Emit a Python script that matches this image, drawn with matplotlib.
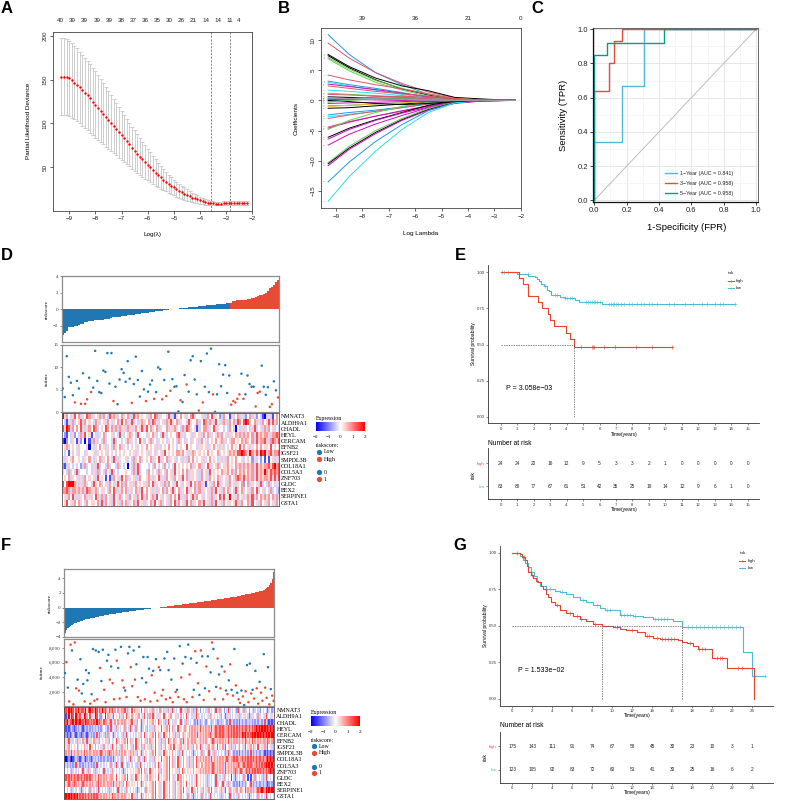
import numpy as np
import matplotlib
matplotlib.use('Agg')
import matplotlib.pyplot as plt
from matplotlib.colors import LinearSegmentedColormap

plt.rcParams['font.family'] = ['Liberation Sans', 'DejaVu Sans']
SERIF = ['Liberation Serif', 'DejaVu Serif']

# ---------------- A: cross-validated partial likelihood deviance ----------------
a_loglam = [-9.3, -9.2, -9.1, -9.0, -8.9, -8.8, -8.7, -8.6, -8.5, -8.4,
            -8.3, -8.2, -8.1, -8.0, -7.9, -7.8, -7.7, -7.6, -7.5, -7.4,
            -7.3, -7.2, -7.1, -7.0, -6.9, -6.8, -6.7, -6.6, -6.5, -6.4,
            -6.3, -6.2, -6.1, -6.0, -5.9, -5.8, -5.7, -5.6, -5.5, -5.4,
            -5.3, -5.2, -5.1, -5.0, -4.9, -4.8, -4.7, -4.6, -4.5, -4.4,
            -4.3, -4.2, -4.1, -4.0, -3.9, -3.8, -3.7, -3.6, -3.5, -3.4,
            -3.3, -3.2, -3.1, -3.0, -2.9, -2.8, -2.7, -2.6, -2.5, -2.4,
            -2.3, -2.2]
a_dev = [153.5, 153.5, 153, 151.5, 149, 146.5, 144, 141, 138, 135,
         132, 128.5, 125, 121.5, 118, 114.5, 111, 107.5, 104, 100.5,
         97, 93.5, 90, 86.5, 83, 79.5, 76, 72.5, 69, 65.5,
         62, 59, 56, 53, 50, 47, 44, 41, 38.5, 36,
         33.5, 31, 29, 27, 25, 23, 21.5, 20, 18.5, 17,
         15.5, 14.5, 13.5, 12.5, 11.5, 10.5, 9.5, 9.0, 8.8, 8.7,
         8.7, 8.7, 8.8, 8.9, 9.0, 9.1, 9.2, 9.3, 9.3, 9.3,
         9.3, 9.3]
a_err = [43.5, 43.5, 43.5, 43, 42.5, 42, 41.5, 41, 40.5, 40,
         39.5, 39, 38.5, 38, 37, 36, 35, 34, 33, 32,
         31, 30, 29, 28, 27, 26, 25, 24, 23, 22,
         21, 20, 19, 18, 17, 16, 15, 14, 13, 12,
         11, 10, 9.5, 9, 8.5, 8, 7.5, 7, 6.5, 6,
         5.5, 5, 4.5, 4, 3.5, 3, 2.7, 2.5, 2.3, 2.2,
         2.2, 2.2, 2.2, 2.2, 2.2, 2.2, 2.2, 2.2, 2.2, 2.2,
         2.2, 2.2]
a_top_pos = [-9.34, -8.87, -8.41, -7.94, -7.49, -7.01, -6.57, -6.10,
             -5.63, -5.17, -4.71, -4.25, -3.78, -3.31, -2.87, -2.51]
a_top_lab = [40, 39, 39, 39, 39, 38, 37, 36, 35, 30, 26, 21, 14, 14, 11, 4]
a_vlines = [-3.59, -2.87]

# ---------------- B: coefficient paths ----------------
b_grid = [-9.3, -8.5, -7.5, -6.5, -5.5, -4.5, -3.5, -2.2]
b_paths = [
    [10.9, 7.6, 4.6, 2.6, 1.0, 0.2, 0.0, 0.0],
    [9.5, 7.0, 4.6, 2.8, 1.4, 0.4, 0.05, 0.0],
    [7.6, 5.6, 3.7, 2.4, 1.6, 0.5, 0.25, 0.0],
    [7.4, 5.4, 3.4, 1.9, 0.9, 0.2, 0.0, 0.0],
    [7.1, 5.2, 3.3, 2.0, 1.0, 0.3, 0.05, 0.0],
    [6.9, 4.9, 3.0, 1.7, 0.7, 0.1, 0.0, 0.0],
    [4.2, 3.4, 2.6, 1.9, 1.1, 0.3, 0.05, 0.0],
    [3.2, 2.6, 2.0, 1.3, 0.5, 0.1, 0.0, 0.0],
    [3.0, 2.4, 1.7, 1.0, 0.4, 0.05, 0.0, 0.0],
    [2.7, 2.3, 1.8, 1.2, 0.6, 0.15, 0.0, 0.0],
    [2.4, 2.0, 1.5, 1.1, 0.7, 0.3, 0.1, 0.0],
    [1.7, 1.5, 1.2, 0.8, 0.4, 0.1, 0.0, 0.0],
    [1.2, 1.0, 0.8, 0.6, 0.3, 0.1, 0.02, 0.0],
    [0.6, 0.5, 0.4, 0.3, 0.2, 0.1, 0.03, 0.0],
    [0.3, 0.25, 0.2, 0.1, 0.05, 0.0, 0.0, 0.0],
    [0.05, 0.3, 0.6, 0.7, 0.5, 0.2, 0.05, 0.0],
    [-0.2, 0.1, 0.4, 0.5, 0.3, 0.1, 0.0, 0.0],
    [-0.5, -0.4, -0.3, -0.2, -0.1, 0.0, 0.0, 0.0],
    [-0.9, -0.8, -0.6, -0.4, -0.2, -0.05, 0.0, 0.0],
    [-1.3, -1.2, -0.9, -0.6, -0.3, -0.1, 0.0, 0.0],
    [-1.0, -0.8, -0.6, -0.4, -0.2, 0.0, 0.0, 0.0],
    [-2.4, -2.0, -1.6, -1.1, -0.5, -0.1, 0.0, 0.0],
    [-2.7, -2.3, -1.8, -1.2, -0.6, -0.15, 0.0, 0.0],
    [-3.0, -2.4, -1.8, -1.2, -0.6, -0.2, -0.05, 0.0],
    [-4.4, -3.5, -2.6, -1.8, -1.0, -0.4, -0.1, 0.0],
    [-4.6, -3.6, -2.6, -1.7, -0.9, -0.3, -0.05, 0.0],
    [-4.8, -3.3, -2.0, -1.0, -0.3, 0.0, 0.0, 0.0],
    [-6.1, -4.6, -3.2, -2.0, -0.8, -0.1, 0.0, 0.0],
    [-6.4, -4.8, -3.3, -2.1, -1.1, -0.3, -0.05, 0.0],
    [-7.4, -5.6, -3.9, -2.5, -1.2, -0.3, 0.0, 0.0],
    [-10.3, -7.6, -5.0, -3.0, -1.3, -0.3, 0.0, 0.0],
    [-10.5, -7.9, -5.3, -3.2, -1.5, -0.4, -0.05, 0.0],
    [-10.8, -8.1, -5.5, -3.3, -1.6, -0.5, -0.1, 0.0],
    [-13.5, -10.2, -6.8, -4.0, -1.7, -0.4, 0.0, 0.0],
    [-16.7, -12.6, -8.4, -4.8, -2.0, -0.4, 0.0, 0.0],
    [0.0, -0.2, -0.5, -0.7, -0.5, -0.2, 0.0, 0.0],
    [0.2, 0.2, 0.1, 0.0, -0.2, -0.1, 0.0, 0.0],
    [-0.3, 0.0, 0.2, 0.3, 0.2, 0.05, 0.0, 0.0],
    [1.0, 0.9, 0.7, 0.5, 0.3, 0.1, 0.0, 0.0],
    [0.4, 0.3, 0.25, 0.2, 0.1, 0.0, 0.0, 0.0],
]
b_cols = ['blue', 'red', 'black', 'black', 'green', 'green', 'red', 'blue', 'cyan', 'magenta',
          'red', 'cyan', 'green', 'black', 'blue', 'red', 'cyan', 'magenta', 'blue', 'black',
          'yellow', 'blue', 'cyan', 'red', 'red', 'magenta', 'green', 'black', 'magenta', 'magenta',
          'green', 'black', 'magenta', 'blue', 'cyan', 'black', 'magenta', 'green', 'red', 'gray']
r_pal = {'black': '#000000', 'red': '#DF536B', 'green': '#61D04F', 'blue': '#2297E6',
         'cyan': '#28E2E5', 'magenta': '#CD0BBC', 'yellow': '#F5C710', 'gray': '#9E9E9E'}
b_top_pos = [-8, -6, -4, -2]
b_top_lab = [39, 36, 21, 0]

# ---------------- C: time-dependent ROC ----------------
roc_names = ['1\u2212Year (AUC = 0.841)', '3\u2212Year (AUC = 0.958)', '5\u2212Year (AUC = 0.958)']
roc_fpr = [[0, 0, 0.17, 0.17, 0.31, 0.31, 1.0],
           [0, 0, 0.09, 0.09, 0.12, 0.12, 0.17, 0.17, 1.0],
           [0, 0, 0.08, 0.08, 0.43, 0.43, 1.0]]
roc_tpr = [[0, 0.34, 0.34, 0.67, 0.67, 1.0, 1.0],
           [0, 0.64, 0.64, 0.80, 0.80, 0.93, 0.93, 1.0, 1.0],
           [0, 0.85, 0.85, 0.92, 0.92, 1.0, 1.0]]
roc_cols = ['#4DBBD5', '#E64B35', '#00A087']

# ---------------- D: training cohort risk plot ----------------
genes = ['NMNAT3', 'ALDH9A1', 'CHADL', 'HEYL', 'CERCAM', 'EFNB2', 'IGSF21', 'SMPDL3B',
         'COL18A1', 'COL5A3', 'ZNF703', 'GLDC', 'BEX2', 'SERPINE1', 'GSTA1']
d_risk_low = [-3.15, -2.9, -2.6, -2.2, -2.15, -2.1, -2.05, -2.0, -1.9, -1.85,
              -1.8, -1.55, -1.5, -1.45, -1.4, -1.38, -1.35, -1.32, -1.3, -1.28,
              -1.25, -1.22, -1.2, -1.15, -1.1, -1.0, -0.95, -0.92, -0.9, -0.85,
              -0.82, -0.8, -0.76, -0.72, -0.7, -0.66, -0.62, -0.6, -0.56, -0.52,
              -0.5, -0.46, -0.42, -0.4, -0.36, -0.32, -0.28, -0.25, -0.2, -0.17,
              -0.14, -0.1, -0.06, -0.03, 0.0, 0.02, 0.05, 0.07, 0.1, 0.12,
              0.15, 0.18, 0.2, 0.22, 0.25, 0.28, 0.3, 0.33, 0.36, 0.4,
              0.42, 0.45, 0.48, 0.5, 0.52, 0.55, 0.58, 0.6, 0.62, 0.65,
              0.67, 0.7, 0.72]
d_risk_high = [0.8, 0.95, 1.0, 1.05, 1.08, 1.1, 1.12, 1.15, 1.2, 1.25,
               1.3, 1.4, 1.5, 1.55, 1.65, 1.75, 1.85, 2.0, 2.2, 2.5,
               2.7, 2.9, 3.3, 3.5]
d_time = [5.3, 3.4, 12.5, 7.9, 6.6, 3.8, 2.2, 7.0, 5.3, 1.9,
          8.7, 1.9, 2.9, 7.7, 4.5, 5.5, 13.7, 7.0, 4.5, 4.3,
          9.3, 9.0, 13.2, 6.4, 13.2, 2.5, 5.7, 1.8, 7.3, 9.6,
          8.8, 6.8, 11.4, 7.5, 2.1, 6.3, 12.4, 7.2, 3.5, 9.2,
          5.1, 2.5, 4.6, 6.2, 7.1, 3.0, 4.5, 10.0, 9.6, 2.9,
          7.2, 3.6, 13.5, 4.8, 7.4, 5.7, 5.8, 0.2, 2.7, 2.3,
          8.3, 6.2, 4.6, 11.6, 12.5, 7.3, 4.0, 0.4, 11.4, 2.2,
          5.7, 13.1, 4.5, 14.2, 4.0, 0.1, 4.0, 10.7, 5.8, 8.4,
          10.5, 4.3, 8.2,
          1.7, 2.5, 2.2, 3.0, 4.0, 8.6, 3.0,
          4.0, 8.2, 6.3, 5.7, 5.7, 1.3, 4.3, 4.6, 10.4, 5.7,
          3.9, 5.6, 1.2, 1.8, 6.9, 4.9, 3.3]
d_status = [0, 0, 0, 0, 0, 0, 1, 0, 0, 1,
            0, 1, 1, 0, 1, 0, 0, 0, 0, 0,
            0, 0, 0, 0, 0, 1, 0, 0, 0, 0,
            0, 0, 0, 0, 1, 0, 0, 0, 0, 0,
            0, 1, 0, 0, 0, 1, 0, 0, 0, 1,
            0, 1, 0, 1, 0, 0, 0, 0, 1, 0,
            0, 1, 0, 0, 0, 0, 0, 1, 0, 1,
            0, 0, 0, 0, 1, 0, 0, 0, 0, 0,
            0, 0, 0,
            1, 1, 1, 1, 1, 0, 1,
            0, 0, 0, 0, 0, 1, 1, 1, 0, 0,
            0, 0, 1, 1, 0, 0, 1]
# expression level codes (one character per sample) and their z-score values
expr_code = {'0': -2.0, '1': -1.4, '2': -0.8, '3': -0.35, '4': 0.0,
             '5': 0.35, '6': 0.8, '7': 1.4, '8': 2.0}
d_expr = [
    "8564357463 5476354563 6437565346 5463375645 4536476354 4375315464 5346734453 3647354236 4415346353 2463524310 3531464",
    "4315363457 3645436534 5364354637 4635734356 5463765345 3657546354 4375446347 6365374536 5364637647 8754635364 5737564",
    "7587364647 5356476345 4764636365 5365356457 3746546354 4635565436 3765451346 6354735443 4364304353 5435734536 3645343",
    "4214352436 3745143354 6344534374 3456543744 4354653437 5345446735 3445354536 4635456364 5355465636 5646375656 6536676",
    "1024354152 4041365343 6344373443 4563543474 3456343545 4354543654 3543545364 5345464565 3456645465 6546375667 5367657",
    "4563454534 4450435464 5354365463 5434545345 4645453534 5464543454 4745443554 5354645353 4546454746 4535464645 5474545",
    "4341434534 4354453545 4534543454 5445453545 4535435453 7454546656 4535654545 4645446545 4565657787 6586575878 5675667",
    "5354564454 3546435463 5464375354 4534365463 4546354735 4635453453 5364645453 5464543535 3645464453 4542534241 4145353",
    "2133434342 3634353734 4363443634 3404363734 4434364343 6434374545 4546354635 4735456345 5645465636 5656375656 6757867",
    "3436343734 4434353634 3643734344 4544363734 4364543654 3645374546 4635545364 5374545465 5646364656 4656375658 6576767",
    "4546354535 3645453745 4141364537 4635453364 4565354735 3645364537 4635545364 5364546354 5364567657 5656375656 6575737",
    "7478886535 3654375463 4536435746 3645536454 5364735453 6364537453 4537463635 1453647354 5364535462 4635453734 3634353",
    "6676366565 6376556345 5436475356 4635346537 4645353546 3645734635 4735463635 4536374536 4654375463 4536473453 4363432",
    "4536475335 4635347536 3645374563 4536453647 3645637453 4536464735 3645736453 4536354737 4584536453 5657364656 5646365",
    "4574536465 4364554637 3645374536 4635463745 3546374563 4536473645 3746354637 4536374536 4554575364 4637453645 3645364",
]

# ---------------- F: validation cohort risk plot ----------------
f_risk_low = [-3.5, -3.1, -2.8, -2.6, -2.45, -2.35, -2.25, -2.15, -2.05, -2.0,
              -1.92, -1.85, -1.8, -1.74, -1.68, -1.62, -1.56, -1.52, -1.48, -1.44,
              -1.4, -1.36, -1.32, -1.28, -1.24, -1.2, -1.16, -1.12, -1.08, -1.04,
              -1.0, -0.97, -0.94, -0.91, -0.88, -0.85, -0.82, -0.79, -0.76, -0.73,
              -0.7, -0.67, -0.64, -0.61, -0.58, -0.55, -0.52, -0.5, -0.47, -0.45,
              -0.42, -0.4, -0.37, -0.35, -0.32, -0.3, -0.27, -0.25, -0.22, -0.2,
              -0.17, -0.15]
f_risk_high = [-0.12, -0.1, -0.07, -0.05, -0.02, 0.0, 0.03, 0.05, 0.08, 0.1,
               0.13, 0.15, 0.18, 0.2, 0.23, 0.25, 0.28, 0.3, 0.33, 0.35,
               0.38, 0.4, 0.43, 0.45, 0.48, 0.5, 0.53, 0.55, 0.58, 0.6,
               0.63, 0.65, 0.68, 0.7, 0.73, 0.75, 0.78, 0.8, 0.83, 0.86,
               0.89, 0.92, 0.95, 0.98, 1.01, 1.04, 1.07, 1.1, 1.13, 1.16,
               1.19, 1.22, 1.25, 1.28, 1.31, 1.34, 1.37, 1.4, 1.43, 1.46,
               1.5, 1.54, 1.58, 1.62, 1.66, 1.7, 1.74, 1.78, 1.82, 1.86,
               1.9, 1.94, 1.98, 2.02, 2.06, 2.1, 2.15, 2.2, 2.25, 2.3,
               2.4, 2.5, 2.65, 2.8, 3.0, 3.3, 3.9, 4.8]
f_time = [4600, 6100, 2600, 700, 8500, 7700, 300, 8800, 2500, 3700,
          2200, 6500, 1800, 3100, 700, 5000, 3600, 4600, 400, 1700,
          7900, 800, 7700, 1000, 7500, 5300, 3500, 7800, 2300, 600,
          6300, 7100, 3700, 5500, 3200, 1000, 7800, 6300, 5300, 1100,
          8200, 3600, 2600, 2200, 1300, 7300, 8200, 5400, 2800, 7700,
          3700, 5800, 1300, 8200, 800, 3900, 6800, 1000, 3300, 6800,
          5200, 700,
          4300, 4900, 1900, 6500, 800, 5400, 5000, 1500, 2300, 6600,
          1000, 7500, 5000, 1200, 3700, 600, 6600, 2000, 2300, 1300,
          8300, 4000, 5900, 1000, 6800, 600, 8500, 4400, 6600, 1300,
          2300, 7600, 6000, 3200, 1600, 7700, 6900, 900, 2500, 5500,
          6900, 2100, 4700, 8800, 7900, 1000, 2700, 6600, 4400, 2500,
          5500, 1000, 4800, 2200, 1700, 3600, 5800, 2300, 1500, 7900,
          2900, 1900, 1000, 500, 2200, 1400, 200, 2100, 5700, 600,
          5900, 1800, 2300, 1100, 4900, 2500, 400, 3400, 1900, 800,
          7200, 2600, 1200, 5400, 300, 2400, 1500, 800]
f_status = [0, 1, 0, 1, 1, 0, 1, 1, 1, 0,
            1, 0, 0, 0, 1, 0, 0, 0, 1, 0,
            0, 1, 0, 1, 0, 1, 0, 0, 1, 1,
            0, 0, 1, 0, 1, 1, 0, 1, 0, 1,
            0, 1, 1, 0, 1, 0, 0, 1, 1, 0,
            1, 0, 1, 0, 1, 0, 0, 1, 0, 0,
            0, 1,
            1, 0, 1, 0, 1, 1, 0, 1, 1, 0,
            1, 0, 0, 1, 0, 1, 0, 1, 0, 1,
            0, 1, 0, 1, 0, 1, 0, 1, 0, 1,
            0, 1, 0, 1, 0, 1, 0, 1, 0, 1,
            0, 1, 0, 1, 0, 1, 0, 1, 0, 1,
            0, 1, 1, 0, 1, 0, 1, 0, 1, 0,
            1, 0, 1, 1, 0, 1, 0, 1, 0, 1,
            0, 1, 0, 1, 0, 1, 1, 0, 1, 1,
            0, 1, 1, 0, 1, 0, 1, 1]
f_expr = [
    "8768787576 8677685786 7687576867 6576756465 5667365474 6535474635 4536345463 4353643734 3437345363 4363734243 4336434373 3634243734 3432734363 3424363433 2434373423",
    "5168517482 6753816475 3587462548 4635374546 5364735463 4536453746 3647345354 4734536443 5346434734 4353735434 3453634543 4364373534 3435363453 4373534363 3453734354",
    "8786778687 7867687767 6768676576 6567356465 5636545674 5364573546 4536434753 4363734353 3437343634 3432373234 3234363432 2363432373 3232373232 2363232323 3237321212",
    "2121232123 2321232323 2363232343 3237343634 3436343734 3634373436 4353634547 4536474635 4735456546 5636565756 5656375676 6767636767 6737676767 7676767878 7878787878",
    "1212123212 3212321232 3237323432 3634373434 4363734343 4345364735 4536474635 4735464536 5364565456 5656375656 5656765676 6767636767 6767676878 6767878787 8787878788",
    "3537353436 5346357353 4635364543 5364354735 4536474635 4735464536 4635474536 5364735463 5456375464 5656545636 5654567656 5636565756 5656365657 6565756565 6566576567",
    "4536434546 3454643474 5464345364 4543734645 3645464536 4735463645 5365474536 4564536474 4536455464 5364654735 4536456547 4546374536 5364564537 4536465474 4556374536",
    "5656375656 6565746565 5636567656 5676565636 5646545656 5364573454 4536474535 4735434645 4363734343 4373434363 3437343634 3434323734 3232373232 3237323232 2321212121",
    "1012101232 2123212321 2363232323 3232373434 3634343734 3436343734 4353634547 4536474635 4735464536 5364735656 5656375656 5636567656 6767636767 6767676767 7676787878",
    "2323232373 3232363232 3237343434 3436343734 3734363434 4363734343 4345364735 4536474635 4735464536 5364735464 5636567656 5656375656 5656765676 6767636767 6767878787",
    "3434363434 3437343634 4363434373 4343634343 4373434545 4536474635 4735454636 4536474545 5364735454 5464545656 5636567656 5656375656 5676567656 7676767676 7676767878",
    "6767676767 7676767676 6565736565 6536654745 4536474535 4735464536 4635434745 4536474535 4736434543 4345734543 4363434373 4343634341 4373434363 4141436343 4363734341",
    "6567656765 6567656565 6536756565 5656375656 5364735454 5464573454 4536474535 4735464536 4536434743 4345734543 4363434373 3437343634 3232373232 3437323232 2323212321",
    "3434363434 4373434363 4343734343 4363434373 4343634343 4373434365 4536474535 4735464536 4536474535 4735464536 4536474535 4565374565 4536456547 5656365676 7876878788",
    "7878787878 6767676767 6767656565 6565736565 5636545474 5364573454 5436474535 4735464536 4536434363 4373434363 4343734343 4363434373 4343634343 4373434363 4343734343",
]

# ---------------- E / G: Kaplan-Meier ----------------
e_hi_t = [0, 1.13, 1.34, 1.68, 2.25, 2.49, 2.9, 3.0, 3.24, 3.95, 4.19, 4.45, 10.38]
e_hi_s = [1.0, 0.958, 0.917, 0.833, 0.792, 0.75, 0.708, 0.667, 0.625, 0.583, 0.54, 0.48, 0.48]
e_lo_t = [0, 1.0, 1.68, 2.08, 2.2, 2.35, 2.42, 2.62, 2.8, 2.95, 3.06, 3.6, 3.9, 4.5, 4.76, 6.13, 14.2]
e_lo_s = [1.0, 0.988, 0.976, 0.964, 0.952, 0.94, 0.916, 0.904, 0.88, 0.868, 0.843, 0.831, 0.82, 0.81,
          0.795, 0.78, 0.78]
e_hi_cens = [4.88, 5.53, 5.6, 5.67, 6.28, 6.94, 8.22, 9.17, 10.38]
e_lo_cens = [0.1, 0.2, 0.45, 1.65, 2.7, 3.3, 3.4, 3.9, 4.0, 4.2, 4.35, 5.2, 5.3, 5.45, 5.55, 5.65,
             5.75, 5.85, 6.0, 6.6, 6.7, 6.8, 6.9, 7.0, 7.1, 7.3, 7.5, 7.8, 8.0, 8.3, 8.5, 8.7, 9.0,
             9.2, 9.5, 10.2, 10.5, 11.2, 11.7, 12.2, 12.5, 13.0, 13.3, 13.5, 14.2]
e_nrisk_hi = [24, 24, 20, 16, 12, 9, 5, 3, 3, 2, 1, 0, 0, 0, 0, 0]
e_nrisk_lo = [83, 80, 77, 67, 61, 51, 42, 35, 25, 19, 14, 12, 9, 6, 1, 0]
e_ticks = [0, 1, 2, 3, 4, 5, 6, 7, 8, 9, 10, 11, 12, 13, 14, 15]

g_hi_t = [0, 0.77, 1.0, 1.27, 1.45, 1.6, 1.85, 2.1, 2.35, 2.6,
          2.85, 3.1, 3.35, 3.6, 3.9, 4.3, 4.8, 5.4, 6.1, 6.8,
          7.4, 8.1, 8.95, 10.1, 10.8, 11.4, 12.5, 13.3, 14.1, 14.8,
          16.6, 17.0, 17.5, 18.1, 18.6, 19.96, 21.5, 24.2]
g_hi_s = [1.0, 0.99, 0.97, 0.95, 0.91, 0.87, 0.85, 0.83, 0.81, 0.80,
          0.77, 0.75, 0.72, 0.70, 0.66, 0.64, 0.61, 0.585, 0.565, 0.55,
          0.53, 0.51, 0.50, 0.49, 0.48, 0.475, 0.46, 0.43, 0.42, 0.41,
          0.40, 0.39, 0.38, 0.365, 0.345, 0.28, 0.21, 0.0]
g_lo_t = [0, 0.77, 1.1, 1.3, 1.6, 1.9, 2.2, 2.5, 2.8, 3.4,
          4.3, 4.8, 5.4, 6.1, 6.8, 7.4, 8.1, 8.8, 9.3, 10.8,
          12.1, 13.1, 14.1, 16.1, 17.0, 23.1, 24.0, 25.3]
g_lo_s = [1.0, 0.98, 0.95, 0.93, 0.90, 0.87, 0.84, 0.80, 0.77, 0.755,
          0.74, 0.73, 0.72, 0.70, 0.68, 0.66, 0.64, 0.62, 0.605, 0.575,
          0.57, 0.56, 0.55, 0.53, 0.49, 0.32, 0.16, 0.16]
g_hi_cens = [0.5, 1.2, 2.0, 4.5, 5.8, 6.5, 6.9, 8.3, 10.5, 12.0, 13.5, 13.7, 14.5, 15.0, 15.3,
             15.6, 15.9, 16.2, 17.8, 18.7, 19.0, 19.3, 20.5, 20.8, 21.0, 22.6, 23.0]
g_lo_cens = [1.0, 1.5, 3.8, 5.0, 7.1, 8.5, 9.5, 9.8, 10.9, 11.2, 11.5, 11.8, 12.3, 14.3, 14.6,
             14.9, 15.2, 15.5, 17.6, 18.0, 18.4, 18.8, 19.2, 19.6, 20.0, 20.4, 20.8, 21.2, 21.6,
             22.0, 22.4, 22.8, 25.3]
g_nrisk_hi = [175, 143, 111, 91, 74, 67, 58, 45, 30, 23, 10, 3, 1]
g_nrisk_lo = [123, 105, 92, 83, 72, 60, 51, 41, 30, 25, 16, 6, 2]
g_ticks = [0, 2, 4, 6, 8, 10, 12, 14, 16, 18, 20, 22, 24]

# ---------------- drawing ----------------
W, H = 787, 809
fig = plt.figure(figsize=(W / 100, H / 100), dpi=100)

BLUE = '#1F77B4'
RED = '#E64B35'
KM_RED = '#E8432D'
KM_BLUE = '#4DBBD5'
heat_cmap = LinearSegmentedColormap.from_list('bwr2', ['#0000FF', '#FFFFFF', '#FF0000'])


def ax_px(l, t, r, b):
    return fig.add_axes([l / W, 1 - b / H, (r - l) / W, (b - t) / H])


def r_style(ax, size=4.5):
    for sp in ax.spines.values():
        sp.set_color('#444444')
        sp.set_linewidth(0.6)
    ax.tick_params(labelsize=size, length=2, width=0.5, pad=2, colors='#222222')
    ax.tick_params(axis='y', labelrotation=90)
    for lab in ax.get_yticklabels():
        lab.set_va('center')


# A
axA = ax_px(53.3, 31.7, 252.3, 210.7)
axA.errorbar(a_loglam, a_dev, yerr=a_err, fmt='none', ecolor='#c6c6c6',
             elinewidth=0.6, capsize=1.3, capthick=0.6)
axA.scatter(a_loglam, a_dev, s=3, color='#FF0000', lw=0, zorder=3)
for v in a_vlines:
    axA.axvline(v, color='#555555', lw=0.5, ls=(0, (3, 2)))
axA.set_xlim(-9.61, -2.0)
axA.set_ylim(0.5, 204.6)
axA.set_xticks(range(-9, -1))
axA.set_yticks([50, 100, 150, 200])
r_style(axA)
for p, lab in zip(a_top_pos, a_top_lab):
    axA.text(p, 1.06, str(lab), transform=axA.get_xaxis_transform(), ha='center', va='center',
             fontsize=4.5, color='#222222')

# B
axB = ax_px(321, 28.3, 521, 208.3)
for vals, c in zip(b_paths, b_cols):
    axB.plot(b_grid, vals, color=r_pal[c], lw=0.7)
axB.axhline(0, color='#bbbbbb', lw=0.4, ls=(0, (2, 2)), zorder=0)
axB.set_xlim(-9.57, -1.99)
axB.set_ylim(-17.86, 11.94)
axB.set_xticks(range(-9, -1))
axB.set_yticks([-15, -10, -5, 0, 5, 10])
r_style(axB)
for i, vals in enumerate(b_paths):
    axB.text(-9.42, vals[0], str(i + 1), fontsize=1.6, color='#888888', ha='right', va='center')
for p, lab in zip(b_top_pos, b_top_lab):
    axB.text(p, 1.056, str(lab), transform=axB.get_xaxis_transform(), ha='center', va='center',
             fontsize=4.5, color='#222222')

# C
axC = ax_px(592.7, 27.7, 757.7, 201.7)
axC.set_xlim(-0.01, 1.01)
axC.set_ylim(-0.008, 1.009)
axC.set_xticks([0, 0.2, 0.4, 0.6, 0.8, 1.0])
axC.set_yticks([0, 0.2, 0.4, 0.6, 0.8, 1.0])
axC.set_xticks([0.1, 0.3, 0.5, 0.7, 0.9], minor=True)
axC.set_yticks([0.1, 0.3, 0.5, 0.7, 0.9], minor=True)
axC.grid(True, which='major', color='#E6E6E6', lw=0.7)
axC.grid(True, which='minor', color='#F0F0F0', lw=0.4)
axC.set_axisbelow(True)
axC.plot([0, 1], [0, 1], color='#BDBDBD', lw=0.7)
for fx, ty, c in zip(roc_fpr, roc_tpr, roc_cols):
    axC.plot(fx, ty, color=c, lw=1.0)
axC.xaxis.set_major_formatter(plt.FormatStrFormatter('%.1f'))
axC.yaxis.set_major_formatter(plt.FormatStrFormatter('%.1f'))
axC.tick_params(which='major', labelsize=5.5, length=2, width=0.6, pad=1.5, colors='#222222')
axC.tick_params(which='minor', length=0)
for side in ['left', 'bottom']:
    axC.spines[side].set_color('#111111')
    axC.spines[side].set_linewidth(0.9)
for side in ['top', 'right']:
    axC.spines[side].set_color('#555555')
    axC.spines[side].set_linewidth(0.6)


def risk_panel(top_b, top_s, top_h, l, r, risk_low, risk_high, times, status, ylim_bar,
               bar_ticks, ylim_sc, sc_ticks, sc_labels, expr):
    n = len(risk_low) + len(risk_high)
    risk = risk_low + risk_high
    cols = [BLUE] * len(risk_low) + [RED] * len(risk_high)
    axb = ax_px(l, top_b[0], r, top_b[1])
    axb.bar(range(n), risk, width=1.0, color=cols, lw=0)
    axb.set_xlim(-0.5, n - 0.5)
    axb.set_ylim(*ylim_bar)
    axb.set_xticks([])
    axb.set_yticks(bar_ticks)
    axs = ax_px(l, top_s[0], r, top_s[1])
    axs.scatter(range(n), times, s=3.2, lw=0,
                c=[RED if st == 1 else BLUE for st in status], zorder=3)
    axs.set_xlim(-0.5, n - 0.5)
    axs.set_ylim(*ylim_sc)
    axs.set_xticks([])
    axs.set_yticks(sc_ticks)
    axs.set_yticklabels(sc_labels)
    for a in (axb, axs):
        for sp in a.spines.values():
            sp.set_color('#8C8C8C')
            sp.set_linewidth(0.9)
        a.tick_params(labelsize=3.6, length=1.5, width=0.4, pad=1, colors='#333333')
        for lab in a.get_yticklabels():
            lab.set_family(SERIF)
    axh = ax_px(l, top_h[0], r, top_h[1])
    mat = np.array([[expr_code[ch] for ch in (s.replace(' ', '') + '4' * n)[:n]] for s in expr])
    axh.imshow(mat, cmap=heat_cmap, vmin=-2, vmax=2, aspect='auto', interpolation='nearest')
    axh.set_xticks([])
    axh.yaxis.tick_right()
    axh.set_yticks(range(len(genes)))
    axh.set_yticklabels(genes, family=SERIF, fontsize=4.3)
    axh.tick_params(length=0, pad=1.5)
    for sp in axh.spines.values():
        sp.set_color('#555555')
        sp.set_linewidth(0.6)
    return axb, axs, axh


risk_panel((276, 342.3), (345, 412.3), (413.3, 505.7), 61.7, 279,
           d_risk_low, d_risk_high, d_time, d_status, (-4, 4), [-2, 0, 2, 4],
           (0, 15), [0, 5, 10, 15], ['0', '5', '10', '15'], d_expr)
risk_panel((569.3, 637.3), (639, 705.7), (707.3, 799.3), 64.3, 274.3,
           f_risk_low, f_risk_high, f_time, f_status, (-4.05, 5.2), [-4, -2, 0, 2, 4],
           (118, 9277), [2000, 4000, 6000, 8000], ['2,000', '4,000', '6,000', '8,000'], f_expr)


def km_panel(box, tbox, xlim, ylim, ticks, hi_t, hi_s, lo_t, lo_s, hi_c, lo_c, n_hi, n_lo,
             med_end, med_v):
    ax = ax_px(*box)
    for t, s, cens, col in [(lo_t, lo_s, lo_c, KM_BLUE), (hi_t, hi_s, hi_c, KM_RED)]:
        ax.step(t, s, where='post', color=col, lw=0.8)
        idx = np.searchsorted(np.array(t), cens, side='right') - 1
        ax.plot(cens, np.array(s)[idx], ls='none', marker='+', ms=2.2, mew=0.4, color=col)
    ax.plot([0, med_end], [0.5, 0.5], color='#555555', lw=0.5, ls=(0, (2, 1.5)))
    for v in med_v:
        ax.plot([v, v], [0, 0.5], color='#555555', lw=0.5, ls=(0, (2, 1.5)))
    ax.set_xlim(*xlim)
    ax.set_ylim(*ylim)
    ax.set_xticks(ticks)
    ax.set_yticks([0, 0.25, 0.5, 0.75, 1.0])
    ax.set_yticklabels(['0.00', '0.25', '0.50', '0.75', '1.00'])
    tb = ax_px(*tbox)
    tb.set_xlim(*xlim)
    tb.set_ylim(0, 1)
    tb.set_xticks(ticks)
    yh, yl = 0.71, 0.255
    tb.set_yticks([yl, yh])
    tb.set_yticklabels(['low', 'high'])
    for x, nh, nl in zip(ticks, n_hi, n_lo):
        tb.text(x, yh, str(nh), ha='center', va='center', fontsize=3.4, color='#222222')
        tb.text(x, yl, str(nl), ha='center', va='center', fontsize=3.4, color='#222222')
    for a in (ax, tb):
        a.spines[['top', 'right']].set_visible(False)
        for side in ['left', 'bottom']:
            a.spines[side].set_color('#333333')
            a.spines[side].set_linewidth(0.6)
        a.tick_params(labelsize=3.1, length=1.5, width=0.4, pad=1, colors='#333333')
    tb.get_yticklabels()[0].set_color(KM_BLUE)
    tb.get_yticklabels()[1].set_color(KM_RED)
    return ax, tb


km_panel((488.3, 265, 759.3, 423.3), (488.3, 448.3, 759.3, 499.3), (-0.75, 15.7), (-0.045, 1.05),
         e_ticks, e_hi_t, e_hi_s, e_lo_t, e_lo_s, e_hi_cens, e_lo_cens, e_nrisk_hi, e_nrisk_lo,
         4.45, [4.45])
km_panel((500, 546, 773.3, 705.7), (500, 731.7, 773.3, 782.7), (-1.23, 26.13), (-0.046, 1.046),
         g_ticks, g_hi_t, g_hi_s, g_lo_t, g_lo_s, g_hi_cens, g_lo_cens, g_nrisk_hi, g_nrisk_lo,
         17.0, [8.95, 17.0])

# ---------------- overlay: labels, legends ----------------
ov = fig.add_axes([0, 0, 1, 1], zorder=20)
ov.set_xlim(0, W)
ov.set_ylim(H, 0)
ov.axis('off')


def T(x, y, s, **kw):
    kw.setdefault('ha', 'center')
    kw.setdefault('va', 'center')
    ov.text(x, y, s, **kw)


for lab, x, y in [('A', 7, 8.5), ('B', 284, 8.5), ('C', 537, 8.5), ('D', 7, 255),
                  ('E', 460, 255), ('F', 6, 546), ('G', 460, 546)]:
    T(x, y, lab, fontsize=12, fontweight='bold')

T(153, 234, 'Log(\u03bb)', fontsize=4.6)
T(29, 121, 'Partial Likelihood Deviance', fontsize=4.6, rotation=90)
T(421, 233, 'Log Lambda', fontsize=4.6)
T(296, 118, 'Coefficients', fontsize=4.6, rotation=90)

T(563, 115, 'Sensitivity (TPR)', fontsize=6.8, rotation=90)
T(687, 227.5, '1-Specificity (FPR)', fontsize=6.8)
for i, (name, c) in enumerate(zip(roc_names, roc_cols)):
    y = 173.3 + 10 * i
    ov.plot([665, 677], [y, y], color=c, lw=1.0)
    T(680, y, name, fontsize=3.9, ha='left', color='#222222')

# heatmap legends
for (x0, yexp, ycb, ytk, yrs, ylow, yhigh, y0, y1) in [
        (316, 418, (421.7, 430.7), 437.3, 445.7, 451.7, 459, 472.3, 479),
        (311, 712.3, (715.7, 725.7), 731.7, 740, 746, 752.7, 766.7, 772.7)]:
    T(x0, yexp, 'Expression', fontsize=4.2, ha='left', family=SERIF)
    cb = ax_px(x0, ycb[0], x0 + 49, ycb[1])
    cb.imshow(np.linspace(-2, 2, 200)[None, :], cmap=heat_cmap, aspect='auto')
    cb.axis('off')
    for k, lab in enumerate(['\u22122', '\u22121', '0', '1', '2']):
        T(x0 + k * 12.25, ytk, lab, fontsize=3.8, family=SERIF)
    T(x0, yrs, 'riskscore:', fontsize=4.2, ha='left', family=SERIF)
    for yy, c, lab in [(ylow, BLUE, 'Low'), (yhigh, RED, 'High'), (y0, BLUE, '0'), (y1, RED, '1')]:
        ov.plot(x0 + 3, yy, 'o', ms=3.8, color=c, mew=0)
        T(x0 + 8, yy, lab, fontsize=4.2, ha='left', family=SERIF)

T(46.7, 309, 'riskscore', fontsize=3.8, rotation=90, family=SERIF)
T(46.7, 378.7, 'futime', fontsize=3.8, rotation=90, family=SERIF)
T(50, 603, 'riskscore', fontsize=3.8, rotation=90, family=SERIF)
T(41.7, 672, 'futime', fontsize=3.8, rotation=90, family=SERIF)

# KM labels
for (ylab_x, ylab_y, xlab_x, xlab_y, risk_y, xlab2_y, p_x, p_y, p_txt, nr_x, nr_y,
     lg_x, lg_y) in [
        (473.3, 344, 624, 434, 475, 509.3, 506, 388.3, 'P = 3.058e\u221203', 488.3, 443.3, 727.7, 272.7),
        (485, 626, 637.3, 716, 757, 792.3, 517.7, 670, 'P = 1.533e\u221202', 500, 725.7, 739.3, 553.3)]:
    T(ylab_x, ylab_y, 'Survival probability', fontsize=3.6, rotation=90)
    T(xlab_x, xlab_y, 'Time(years)', fontsize=3.6)
    T(ylab_x, risk_y, 'risk', fontsize=3.6, rotation=90)
    T(xlab_x, xlab2_y, 'Time(years)', fontsize=3.6)
    T(p_x, p_y, p_txt, fontsize=5, ha='left')
    T(nr_x, nr_y, 'Number at risk', fontsize=4.8, ha='left')
    T(lg_x, lg_y, 'risk', fontsize=2.9, ha='left')
    for k, (lab, c) in enumerate([('high', KM_RED), ('low', KM_BLUE)]):
        yy = lg_y + 8 + 7 * k
        ov.plot([lg_x, lg_x + 6], [yy, yy], color=c, lw=0.7)
        ov.plot(lg_x + 3, yy, marker='+', ms=2, mew=0.4, color=c)
        T(lg_x + 8, yy, lab, fontsize=2.9, ha='left')

fig.savefig('out.png', dpi=100)
